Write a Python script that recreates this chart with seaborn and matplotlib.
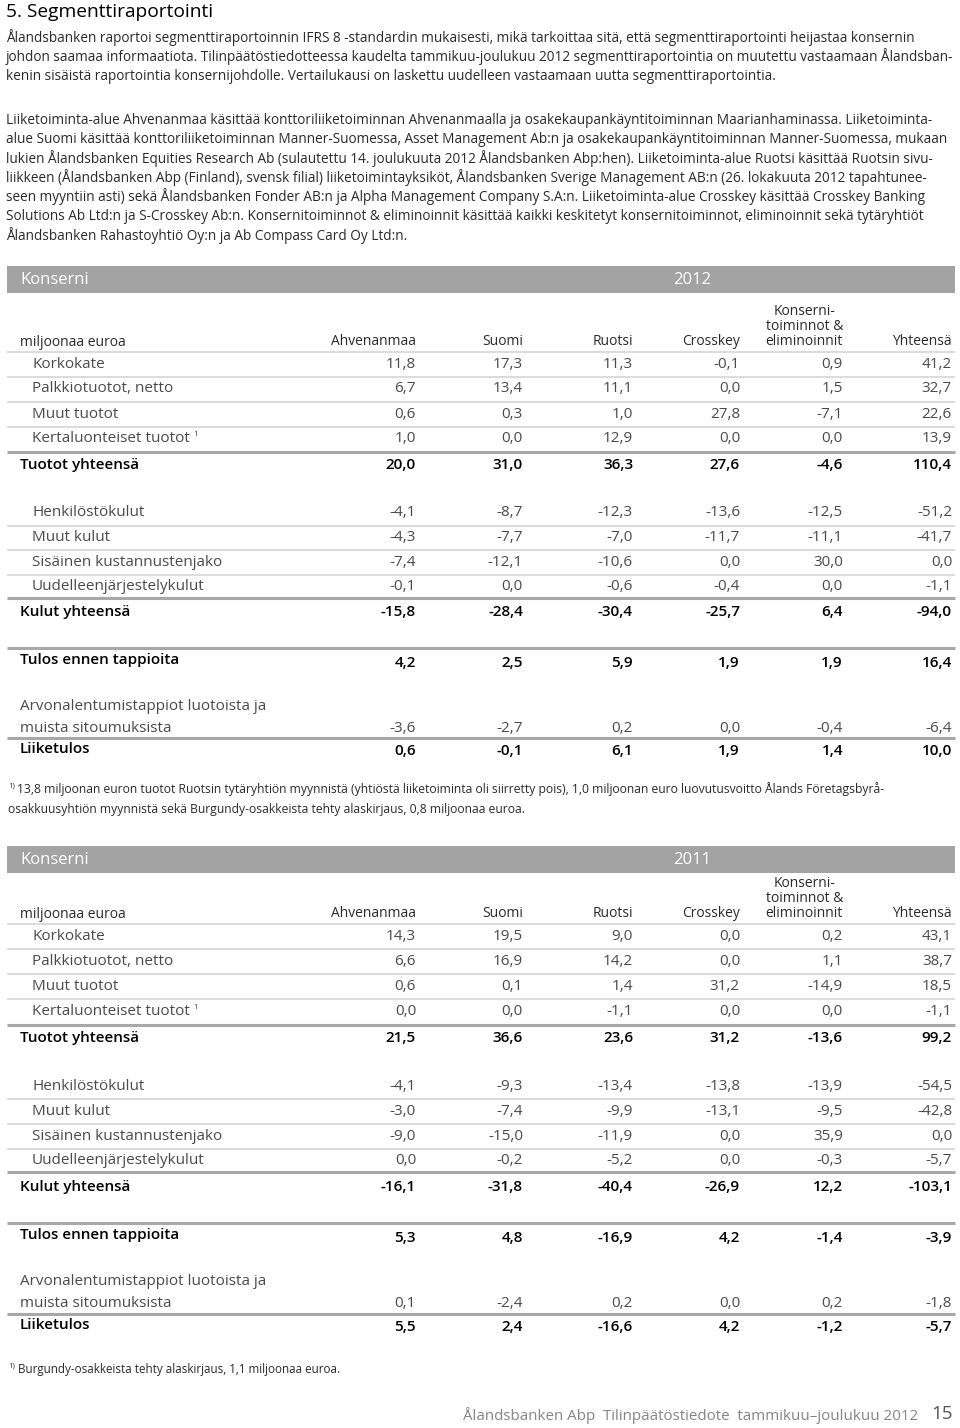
import matplotlib
matplotlib.use("Agg")
import matplotlib.pyplot as plt
from matplotlib import font_manager
import seaborn as sns

# ---- data -------------------------------------------------------------
title = "5. Segmenttiraportointi"

intro_lines = [
    "Ålandsbanken raportoi segmenttiraportoinnin IFRS 8 -standardin mukaisesti, mikä tarkoittaa sitä, että segmenttiraportointi heijastaa konsernin",
    "johdon saamaa informaatiota. Tilinpäätöstiedotteessa kaudelta tammikuu-joulukuu 2012 segmenttiraportointia on muutettu vastaamaan Ålandsban-",
    "kenin sisäistä raportointia konsernijohdolle. Vertailukausi on laskettu uudelleen vastaamaan uutta segmenttiraportointia.",
]

segment_lines = [
    "Liiketoiminta-alue Ahvenanmaa käsittää konttoriliiketoiminnan Ahvenanmaalla ja osakekaupankäyntitoiminnan Maarianhaminassa. Liiketoiminta-",
    "alue Suomi käsittää konttoriliiketoiminnan Manner-Suomessa, Asset Management Ab:n ja osakekaupankäyntitoiminnan Manner-Suomessa, mukaan",
    "lukien Ålandsbanken Equities Research Ab (sulautettu 14. joulukuuta 2012 Ålandsbanken Abp:hen). Liiketoiminta-alue Ruotsi käsittää Ruotsin sivu-",
    "liikkeen (Ålandsbanken Abp (Finland), svensk filial) liiketoimintayksiköt, Ålandsbanken Sverige Management AB:n (26. lokakuuta 2012 tapahtunee-",
    "seen myyntiin asti) sekä Ålandsbanken Fonder AB:n ja Alpha Management Company S.A:n. Liiketoiminta-alue Crosskey käsittää Crosskey Banking",
    "Solutions Ab Ltd:n ja S-Crosskey Ab:n. Konsernitoiminnot & eliminoinnit käsittää kaikki keskitetyt konsernitoiminnot, eliminoinnit sekä tytäryhtiöt",
    "Ålandsbanken Rahastoyhtiö Oy:n ja Ab Compass Card Oy Ltd:n.",
]

columns = ["Ahvenanmaa", "Suomi", "Ruotsi", "Crosskey",
           "Konserni-\ntoiminnot &\neliminoinnit", "Yhteensä"]
income_rows = ["Korkokate", "Palkkiotuotot, netto", "Muut tuotot", "Kertaluonteiset tuotot"]
cost_rows = ["Henkilöstökulut", "Muut kulut", "Sisäinen kustannustenjako", "Uudelleenjärjestelykulut"]

income_2012 = [[11.8, 17.3, 11.3, -0.1, 0.9, 41.2],
               [6.7, 13.4, 11.1, 0.0, 1.5, 32.7],
               [0.6, 0.3, 1.0, 27.8, -7.1, 22.6],
               [1.0, 0.0, 12.9, 0.0, 0.0, 13.9]]
income_total_2012 = [20.0, 31.0, 36.3, 27.6, -4.6, 110.4]
costs_2012 = [[-4.1, -8.7, -12.3, -13.6, -12.5, -51.2],
              [-4.3, -7.7, -7.0, -11.7, -11.1, -41.7],
              [-7.4, -12.1, -10.6, 0.0, 30.0, 0.0],
              [-0.1, 0.0, -0.6, -0.4, 0.0, -1.1]]
cost_total_2012 = [-15.8, -28.4, -30.4, -25.7, 6.4, -94.0]
profit_2012 = [4.2, 2.5, 5.9, 1.9, 1.9, 16.4]
impairment_2012 = [-3.6, -2.7, 0.2, 0.0, -0.4, -6.4]
operating_2012 = [0.6, -0.1, 6.1, 1.9, 1.4, 10.0]

income_2011 = [[14.3, 19.5, 9.0, 0.0, 0.2, 43.1],
               [6.6, 16.9, 14.2, 0.0, 1.1, 38.7],
               [0.6, 0.1, 1.4, 31.2, -14.9, 18.5],
               [0.0, 0.0, -1.1, 0.0, 0.0, -1.1]]
income_total_2011 = [21.5, 36.6, 23.6, 31.2, -13.6, 99.2]
costs_2011 = [[-4.1, -9.3, -13.4, -13.8, -13.9, -54.5],
              [-3.0, -7.4, -9.9, -13.1, -9.5, -42.8],
              [-9.0, -15.0, -11.9, 0.0, 35.9, 0.0],
              [0.0, -0.2, -5.2, 0.0, -0.3, -5.7]]
cost_total_2011 = [-16.1, -31.8, -40.4, -26.9, 12.2, -103.1]
profit_2011 = [5.3, 4.8, -16.9, 4.2, -1.4, -3.9]
impairment_2011 = [0.1, -2.4, 0.2, 0.0, 0.2, -1.8]
operating_2011 = [5.5, 2.4, -16.6, 4.2, -1.2, -5.7]

footnote_2012 = [
    "13,8 miljoonan euron tuotot Ruotsin tytäryhtiön myynnistä (yhtiöstä liiketoiminta oli siirretty pois), 1,0 miljoonan euro luovutusvoitto Ålands Företagsbyrå-",
    "osakkuusyhtiön myynnistä sekä Burgundy-osakkeista tehty alaskirjaus, 0,8 miljoonaa euroa.",
]
footnote_2011 = ["Burgundy-osakkeista tehty alaskirjaus, 1,1 miljoonaa euroa."]
footer = "Ålandsbanken Abp  Tilinpäätöstiedote  tammikuu–joulukuu 2012"
page_no = "15"

# ---- style ------------------------------------------------------------
sns.set_style("white")
available = {f.name for f in font_manager.fontManager.ttflist}
family = next((f for f in ["Liberation Sans Narrow", "Open Sans", "Lato", "DejaVu Sans"]
               if f in available))
plt.rcParams["font.family"] = [family, "DejaVu Sans"]

col_right = [416, 523, 633, 740, 843, 952]
TEXT = "#2a2a2a"
ROW = "#4a4a4a"
BAND = "#a3a3a3"
THIN = "#d6d6d6"
THICK = "#a8a8a8"

fig = plt.figure(figsize=(9.6, 14.28), dpi=100)
ax = fig.add_axes([0, 0, 1, 1])
ax.set_xlim(0, 960)
ax.set_ylim(1428, 0)
ax.axis("off")


def fmt(v):
    return f"{v:.1f}".replace(".", ",")


def label_with_sup(x, y, text, size, color, weight="normal"):
    t = ax.text(x, y, text, fontsize=size, color=color, va="center", weight=weight)
    fig.canvas.draw()
    bb = t.get_window_extent().transformed(ax.transData.inverted())
    ax.text(bb.x1 + 3, y - 4, "1", fontsize=size * 0.55, color=color, va="center")


def number_row(y, values, color, weight="normal", size=11):
    for xr, v in zip(col_right, values):
        ax.text(xr, y, fmt(v), ha="right", va="center", fontsize=size,
                color=color, weight=weight)


def rule(y, color, lw):
    ax.hlines(y, 7, 955, color=color, lw=lw)


def draw_table(band_top, base, stretch, year, income, income_total, costs,
               cost_total, profit, impairment, operating):
    # offsets measured from the header line, stretched slightly per table
    def Y(off):
        return base + off + stretch * off / 410

    ax.axhspan(band_top, band_top + 27, xmin=7 / 960, xmax=955 / 960, color=BAND, lw=0)
    ax.text(20, band_top + 14, "Konserni", color="white", fontsize=12, va="center")
    ax.text(673, band_top + 14, year, color="white", fontsize=12, va="center")

    ax.text(20, base, "miljoonaa euroa", fontsize=10, color=TEXT, va="center")
    for xr, name in zip(col_right, columns):
        ax.text(xr, base + 7, name, fontsize=10, color=TEXT, ha="right", va="bottom",
                multialignment="center", linespacing=1.0)
    rule(base + 10, THIN, 1.2)

    for i, (name, vals) in enumerate(zip(income_rows, income)):
        y = Y(22 + 25 * i)
        if i == 3:
            label_with_sup(32, y, name, 11, ROW)
        else:
            ax.text(32, y, name, fontsize=11, color=ROW, va="center")
        number_row(y, vals, ROW)
        if i < 3:
            rule(y + 12.5, THIN, 1.2)
    rule(Y(110), THICK, 2.2)
    ax.text(20, Y(123), "Tuotot yhteensä", fontsize=11, color="black",
            va="center", weight="semibold")
    number_row(Y(123), income_total, "black", "semibold")

    for i, (name, vals) in enumerate(zip(cost_rows, costs)):
        y = Y(171 + 24.5 * i)
        ax.text(32, y, name, fontsize=11, color=ROW, va="center")
        number_row(y, vals, ROW)
        if i < 3:
            rule(y + 12.5, THIN, 1.2)
    rule(Y(256), THICK, 2.2)
    ax.text(20, Y(270), "Kulut yhteensä", fontsize=11, color="black",
            va="center", weight="semibold")
    number_row(Y(270), cost_total, "black", "semibold")

    rule(Y(306), THICK, 2.2)
    ax.text(20, Y(318), "Tulos ennen tappioita", fontsize=11, color="black",
            va="center", weight="semibold")
    number_row(Y(321), profit, "black", "semibold")

    ax.text(20, Y(364), "Arvonalentumistappiot luotoista ja", fontsize=11,
            color=ROW, va="center")
    ax.text(20, Y(386), "muista sitoumuksista", fontsize=11, color=ROW, va="center")
    number_row(Y(386), impairment, ROW)
    rule(Y(396), THICK, 2.2)
    ax.text(20, Y(407), "Liiketulos", fontsize=11, color="black",
            va="center", weight="semibold")
    number_row(Y(409), operating, "black", "semibold")


# ---- page text --------------------------------------------------------
ax.text(6, 12, title, fontsize=13.8, color="black", va="center")
for i, line in enumerate(intro_lines):
    ax.text(6, 37 + 19.5 * i, line, fontsize=9.8, color=TEXT, va="center")
for i, line in enumerate(segment_lines):
    ax.text(6, 120 + 19.2 * i, line, fontsize=9.85, color=TEXT, va="center")

draw_table(266, 342, 0, "2012", income_2012, income_total_2012, costs_2012,
           cost_total_2012, profit_2012, impairment_2012, operating_2012)
ax.text(8, 786, "1)", fontsize=5.5, color=TEXT, va="center")
for i, line in enumerate(footnote_2012):
    x = 17 if i == 0 else 8
    ax.text(x, 789 + 20 * i, line, fontsize=8.75, color=TEXT, va="center")

draw_table(846, 914, 4, "2011", income_2011, income_total_2011, costs_2011,
           cost_total_2011, profit_2011, impairment_2011, operating_2011)
ax.text(8, 1366, "1)", fontsize=5.5, color=TEXT, va="center")
ax.text(18, 1369, footnote_2011[0], fontsize=8.4, color=TEXT, va="center")

ax.text(918, 1415, footer, fontsize=10.9, color="#858585", ha="right", va="center")
ax.text(953, 1414, page_no, fontsize=13.5, color="#555555", ha="right", va="center")

fig.savefig("out.png", dpi=100)
